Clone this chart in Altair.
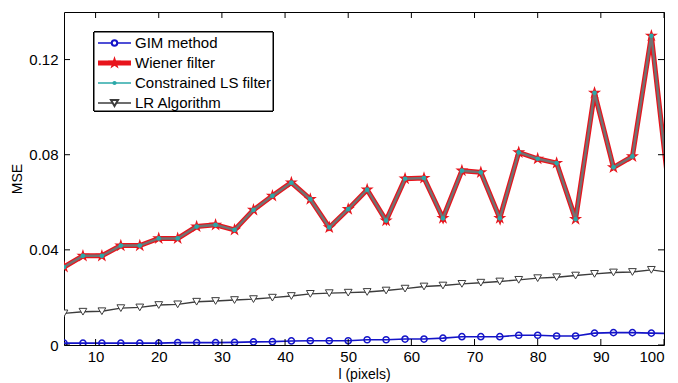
import altair as alt
import pandas as pd

# ---- data ----
l_vals = [5, 8, 11, 14, 17, 20, 23, 26, 29, 32, 35, 38, 41, 44, 47, 50, 53,
          56, 59, 62, 65, 68, 71, 74, 77, 80, 83, 86, 89, 92, 95, 98, 101]

gim = [0.0008, 0.0008, 0.0008, 0.0008, 0.0008, 0.0008, 0.0010, 0.0010, 0.0010,
       0.0011, 0.0013, 0.0014, 0.0017, 0.0018, 0.0018, 0.0018, 0.0022, 0.0022,
       0.0025, 0.0025, 0.0029, 0.0035, 0.0035, 0.0035, 0.0041, 0.0041, 0.0038,
       0.0038, 0.0050, 0.0052, 0.0052, 0.0050, 0.0048]

wiener = [0.0328, 0.0375, 0.0375, 0.0418, 0.0418, 0.0448, 0.0448, 0.0498,
          0.0505, 0.0484, 0.0568, 0.0627, 0.0683, 0.0613, 0.0494, 0.0571,
          0.0653, 0.0523, 0.0699, 0.0702, 0.0533, 0.0733, 0.0726, 0.0533,
          0.0810, 0.0783, 0.0765, 0.0529, 0.1060, 0.0747, 0.0793, 0.1300,
          0.0600]

cls = [0.0328, 0.0375, 0.0375, 0.0418, 0.0418, 0.0448, 0.0448, 0.0498,
       0.0505, 0.0484, 0.0568, 0.0627, 0.0683, 0.0613, 0.0494, 0.0571,
       0.0653, 0.0523, 0.0699, 0.0702, 0.0533, 0.0733, 0.0726, 0.0533,
       0.0810, 0.0783, 0.0765, 0.0529, 0.1060, 0.0747, 0.0793, 0.1300,
       0.0600]

lr = [0.0133, 0.0140, 0.0142, 0.0155, 0.0158, 0.0168, 0.0171, 0.0182, 0.0185,
      0.0189, 0.0193, 0.0199, 0.0206, 0.0215, 0.0218, 0.0220, 0.0223, 0.0229,
      0.0237, 0.0246, 0.0250, 0.0257, 0.0262, 0.0267, 0.0274, 0.0281, 0.0285,
      0.0292, 0.0299, 0.0305, 0.0307, 0.0316, 0.0305]

x_ticks = [10, 20, 30, 40, 50, 60, 70, 80, 90, 100]
y_ticks = [0, 0.04, 0.08, 0.12]
legend_names = ["GIM method", "Wiener filter", "Constrained LS filter", "LR Algorithm"]

W, H = 600, 333
FONT = "Liberation Sans"
STAR = ("M0,-1L0.225,-0.309L0.951,-0.309L0.363,0.118L0.588,0.809L0,0.382"
        "L-0.588,0.809L-0.363,0.118L-0.951,-0.309L-0.225,-0.309Z")

df = pd.DataFrame({"l": l_vals, "gim": gim, "wiener": wiener, "cls": cls, "lr": lr})

xs = alt.Scale(domain=[5, 100], nice=False, zero=False)
ys = alt.Scale(domain=[0, 0.14], nice=False)

X = alt.X("l:Q", scale=xs, title="l (pixels)",
          axis=alt.Axis(values=x_ticks, labelFontSize=15, titleFontSize=14,
                        labelPadding=4, titlePadding=3))
def Y(col):
    return alt.Y(f"{col}:Q", scale=ys, title="MSE",
                 axis=alt.Axis(values=y_ticks, format=".2~f", labelFontSize=15,
                               titleFontSize=14, labelPadding=6, titlePadding=4))

base = alt.Chart(df)

red_line = base.mark_line(color="#e8141c", strokeWidth=5, clip=True).encode(x=X, y=Y("wiener"))
red_star = base.mark_point(shape=STAR, filled=True, color="#e8141c", size=190, opacity=1, clip=True).encode(x=X, y=Y("wiener"))
gray_line = base.mark_line(color="#727272", strokeWidth=2.5, clip=True).encode(x=X, y=Y("cls"))
cyan_pt = base.mark_point(shape="circle", filled=True, color="#2aa8a8", size=22, opacity=1, clip=True).encode(x=X, y=Y("cls"))

lr_line = base.mark_line(color="#3c3c3c", strokeWidth=1.4, clip=True).encode(x=X, y=Y("lr"))
lr_pt = base.mark_point(shape="triangle-down", filled=False, stroke="#3c3c3c", fill="white",
                        strokeWidth=1, size=60, opacity=1, clip=True).encode(x=X, y=Y("lr"))

gim_line = base.mark_line(color="#1414c8", strokeWidth=1.6, clip=True).encode(x=X, y=Y("gim"))
gim_pt = base.mark_point(shape="circle", filled=False, stroke="#1414c8", strokeWidth=1.5,
                         size=38, opacity=1, clip=True).encode(x=X, y=Y("gim"))

# inward ticks
xt = pd.DataFrame({"t": x_ticks})
yt = pd.DataFrame({"t": y_ticks})
tick_top = alt.Chart(xt).mark_rule(color="black", strokeWidth=1).encode(
    x=alt.X("t:Q", scale=xs), y=alt.value(0), y2=alt.value(6))
tick_bot = alt.Chart(xt).mark_rule(color="black", strokeWidth=1).encode(
    x=alt.X("t:Q", scale=xs), y=alt.value(H), y2=alt.value(H - 6))
tick_left = alt.Chart(yt).mark_rule(color="black", strokeWidth=1).encode(
    y=alt.Y("t:Q", scale=ys), x=alt.value(0), x2=alt.value(6))
tick_right = alt.Chart(yt).mark_rule(color="black", strokeWidth=1).encode(
    y=alt.Y("t:Q", scale=ys), x=alt.value(W), x2=alt.value(W - 6))

# legend
lx0, lx1, ly0, ly1 = 30, 209, 20, 99
rows = [31, 51, 71, 91]
leg = [alt.Chart(df).mark_rect(fill="white", stroke="black", strokeWidth=1).encode(
    x=alt.value(lx0), x2=alt.value(lx1), y=alt.value(ly0), y2=alt.value(ly1))]
styles = [
    dict(lc="#1414c8", lw=1.6, shape="circle", filled=False, col="#1414c8", size=30),
    dict(lc="#e8141c", lw=5, shape=STAR, filled=True, col="#e8141c", size=190),
    dict(lc="#2aa8a8", lw=1.6, shape="circle", filled=True, col="#2aa8a8", size=18),
    dict(lc="#3c3c3c", lw=1.4, shape="triangle-down", filled=False, col="#3c3c3c", size=50),
]
one = pd.DataFrame({"a": [0]})
for name, ry, st in zip(legend_names, rows, styles):
    leg.append(alt.Chart(one).mark_rule(color=st["lc"], strokeWidth=st["lw"]).encode(
        x=alt.value(34), x2=alt.value(67), y=alt.value(ry)))
    if st["filled"]:
        pm = alt.Chart(one).mark_point(shape=st["shape"], filled=True, color=st["col"],
                                       size=st["size"], opacity=1)
    else:
        pm = alt.Chart(one).mark_point(shape=st["shape"], filled=False, stroke=st["col"],
                                       fill="white", size=st["size"], opacity=1)
    leg.append(pm.encode(x=alt.value(50.5), y=alt.value(ry)))
    leg.append(alt.Chart(one).mark_text(align="left", baseline="middle", font=FONT,
                                        fontSize=15, color="black").encode(
        x=alt.value(71), y=alt.value(ry), text=alt.value(name)))

chart = alt.layer(
    red_line, red_star, gray_line, cyan_pt, lr_line, lr_pt, gim_line, gim_pt,
    tick_top, tick_bot, tick_left, tick_right, *leg
).properties(
    width=W, height=H,
    autosize=alt.AutoSizeParams(type="none"),
    padding={"left": 56, "top": 4, "right": 6, "bottom": 40},
    background="white",
).configure_view(
    stroke="black", strokeWidth=1
).configure_axis(
    domain=False, grid=False, tickSize=0, labelColor="black", titleColor="black",
    labelFont=FONT, titleFont=FONT, titleFontWeight="normal"
)

chart.save("out.html", embed_options={"renderer": "svg", "actions": False})
